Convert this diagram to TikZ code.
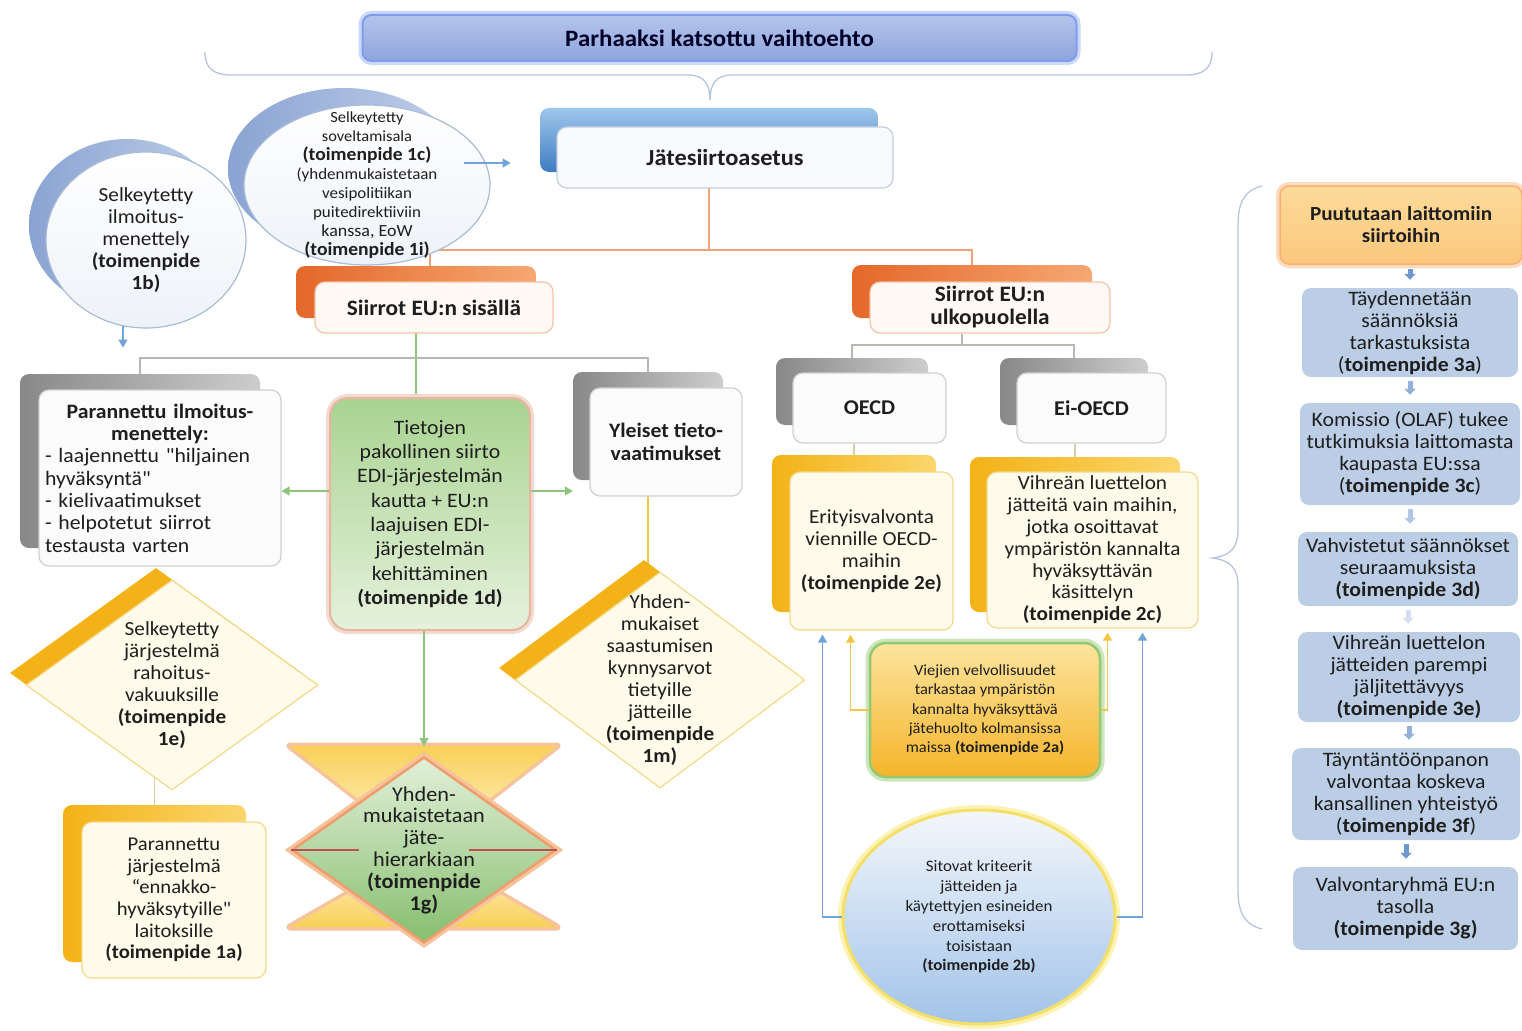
\documentclass[tikz,border=0pt]{standalone}
\usepackage{fontspec}
\setmainfont{Carlito}[FakeStretch=1.06]
% a plain face without TeX quote mapping, for straight double quotes
\newfontfamily\plainquotefont{Carlito}[FakeStretch=1.06]
\newcommand\straightquote{{\plainquotefont"}}
\usetikzlibrary{shapes.geometric,arrows.meta}

\pgfdeclarelayer{links}
\pgfsetlayers{links,main}

\definecolor{inktext}{HTML}{1E1E1E}
\definecolor{titletop}{HTML}{B4C4EC}
\definecolor{titlebot}{HTML}{8EA4DB}
\definecolor{titleglow}{HTML}{7F9DEA}
\definecolor{bracecol}{HTML}{B5C4DD}
\definecolor{jsablue}{HTML}{3F7CC2}
\definecolor{jsalight}{HTML}{9EC6EC}
\definecolor{edgeblue}{HTML}{C3CEE0}
\definecolor{frontbluecol}{HTML}{F8FAFD}
\definecolor{orangedk}{HTML}{E4682A}
\definecolor{orangelt}{HTML}{F6A772}
\definecolor{edgeorange}{HTML}{F2C4A4}
\definecolor{frontorangecol}{HTML}{FFF9F5}
\definecolor{graydk}{HTML}{888888}
\definecolor{graylt}{HTML}{CDCDCD}
\definecolor{edgegray}{HTML}{D0D0D0}
\definecolor{frontgraycol}{HTML}{FBFBFB}
\definecolor{yellowdk}{HTML}{F3B217}
\definecolor{yellowlt}{HTML}{FBD66C}
\definecolor{cream}{HTML}{FFFBEA}
\definecolor{edgeyellow}{HTML}{F4D88A}
\definecolor{greentop}{HTML}{A9D391}
\definecolor{greenbot}{HTML}{E5F1DC}
\definecolor{glowpink}{HTML}{E8B6A0}
\definecolor{ellbackdk}{HTML}{8AA3D2}
\definecolor{ellbacklt}{HTML}{C2D0EA}
\definecolor{elledge}{HTML}{A9BCD6}
\definecolor{ellfrontbot}{HTML}{EEF2F8}
\definecolor{linkgray}{HTML}{B4BAB2}
\definecolor{linkorange}{HTML}{EDA277}
\definecolor{linkgreen}{HTML}{8EC47C}
\definecolor{linkyellow}{HTML}{F3C648}
\definecolor{linkblue}{HTML}{72A2DA}
\definecolor{linktan}{HTML}{D8CDA4}
\definecolor{stepfill}{HTML}{BBCEE6}
\definecolor{steparrow}{HTML}{6F98CE}
\definecolor{alarmtop}{HTML}{FDDB9A}
\definecolor{alarmbot}{HTML}{FBC77C}
\definecolor{alarmglow}{HTML}{F8B070}
\definecolor{hgyel}{HTML}{F8D158}
\definecolor{hgpale}{HTML}{FFF6D8}
\definecolor{hgglow}{HTML}{F7C39C}
\definecolor{hggreentop}{HTML}{E2F0D9}
\definecolor{hggreenbot}{HTML}{86BE6E}
\definecolor{hgedge}{HTML}{EE9E6C}
\definecolor{hgred}{HTML}{C0504D}
\definecolor{duttop}{HTML}{FCE49E}
\definecolor{dutbot}{HTML}{F5B52A}
\definecolor{dutedge}{HTML}{95C873}
\definecolor{dutglow}{HTML}{CDE5BA}
\definecolor{crittop}{HTML}{F4F7FB}
\definecolor{critbot}{HTML}{A2C3E9}
\definecolor{critedge}{HTML}{F4E068}
\definecolor{critglow}{HTML}{FBF2B4}

\begin{document}
\begin{tikzpicture}[x=1pt,y=-1pt,
  every node/.style={text=inktext},
  txt/.style={font=\fontsize{20}{22}\selectfont},
  front/.style={rounded corners=10pt, line width=1.2pt, inner sep=0pt, align=center, txt},
  frontgray/.style={front, draw=edgegray, fill=frontgraycol},
  frontorange/.style={front, draw=edgeorange, fill=frontorangecol},
  frontyellow/.style={front, draw=edgeyellow, fill=cream},
  frontblue/.style={front, draw=edgeblue, fill=frontbluecol},
  back/.style={rounded corners=9pt, inner sep=0pt},
  backgray/.style={back, left color=graydk, right color=graylt},
  backorange/.style={back, left color=orangedk, right color=orangelt},
  backyellow/.style={back, left color=yellowdk, right color=yellowlt},
  backblue/.style={back, top color=jsalight, bottom color=jsablue},
  ellback/.style={ellipse, inner sep=0pt, left color=ellbackdk, right color=ellbacklt},
  ellfront/.style={ellipse, inner sep=-30pt, draw=elledge, line width=1.2pt,
    top color=white, bottom color=ellfrontbot, align=center},
  diaback/.style={diamond, inner sep=-40pt, fill=yellowdk},
  diafront/.style={diamond, inner sep=-40pt, draw=edgeyellow, line width=1.2pt,
    fill=cream, align=center, txt},
  stepbox/.style={rounded corners=9pt, fill=stepfill, inner sep=0pt, align=center,
    font=\fontsize{20.5}{22}\selectfont},
  link/.style={line width=1.4pt},
  tip/.style={-{Triangle[width=9pt,length=8pt]}},
  steparr/.style={draw=#1, line width=5pt, -{Triangle[width=11pt,length=6pt]},
    shorten <=4pt, shorten >=8pt},
]
\useasboundingbox (0,0) rectangle (1522,1030);

% ---------- heading and its brace ----------
\node[rounded corners=9pt, top color=titletop, bottom color=titlebot,
  draw=titleglow, line width=2pt, preaction={draw=titleglow!40, line width=8pt},
  minimum width=714, minimum height=46, inner sep=0pt,
  font=\fontsize{23.5}{26}\selectfont\bfseries, text=black!85!blue] (title) at (719.5,38)
  {Parhaaksi katsottu vaihtoehto};

\draw[bracecol, line width=1.3pt]
  (205,52) .. controls (205,68) and (213,75) .. (232,75) -- (688,75)
  .. controls (704,75) and (710,84) .. (710,100);
\draw[bracecol, line width=1.3pt]
  (1212,52) .. controls (1212,68) and (1204,75) .. (1185,75) -- (732,75)
  .. controls (716,75) and (710,84) .. (710,100);

% ---------- regulation box ----------
\node[backblue, minimum width=338, minimum height=64] (jsaback) at (709,140) {};
\node[frontblue, minimum width=336, minimum height=61,
  font=\fontsize{23}{26}\selectfont\bfseries] (jsa) at (725,157.5) {Jätesiirtoasetus};

% ---------- bubbles 1b and 1c ----------
\node[ellback, minimum width=196, minimum height=172] (e1bback) at (127,225) {};
\node[ellfront, minimum width=200, minimum height=176, txt] (e1b) at (146,240)
  {Selkeytetty\\ilmoitus-\\menettely\\\textbf{(toimenpide}\\\textbf{1b)}};

\node[ellback, minimum width=232, minimum height=162] (e1cback) at (344,169) {};
\node[ellfront, minimum width=246, minimum height=160,
  font=\fontsize{15.5}{19}\selectfont] (e1c) at (367,185)
  {Selkeytetty\\soveltamisala\\
   {\fontsize{18.5}{19}\selectfont\bfseries (toimenpide 1c)}\\
   {\fontsize{16}{19}\selectfont (yhdenmukaistetaan}\\
   {\fontsize{16}{19}\selectfont vesipolitiikan}\\
   {\fontsize{16}{19}\selectfont puitedirektiiviin}\\
   {\fontsize{17}{19}\selectfont kanssa, EoW}\\
   {\fontsize{18.5}{19}\selectfont\bfseries (toimenpide 1i)}};

% ---------- transfers inside / outside the EU ----------
\node[backorange, minimum width=240, minimum height=52] (sisback) at (416,292) {};
\node[frontorange, minimum width=238, minimum height=51,
  font=\fontsize{22}{24}\selectfont\bfseries] (sis) at (434,307.5) {Siirrot EU:n sisällä};

\node[backorange, minimum width=240, minimum height=53] (ulkback) at (972,291.5) {};
\node[frontorange, minimum width=240, minimum height=51,
  font=\fontsize{22}{23}\selectfont\bfseries] (ulk) at (990,307.5) {Siirrot EU:n\\ulkopuolella};

% ---------- inside the EU ----------
\node[backgray, minimum width=240, minimum height=174] (parback) at (140,461) {};
\node[frontgray, minimum width=242, minimum height=176, text width=230, align=left,
  font=\fontsize{20.5}{22.3}\selectfont] (par) at (160,478)
  {\centering\textbf{Parannettu ilmoitus-}\\\textbf{menettely:}\par
   \raggedright - laajennettu \straightquote hiljainen\\hyväksyntä\straightquote\\- kielivaatimukset\\- helpotetut siirrot\\testausta varten\par};

\node[rounded corners=18pt, top color=greentop, bottom color=greenbot,
  draw=glowpink, line width=2pt, preaction={draw=glowpink!50, line width=8pt},
  minimum width=200, minimum height=232, inner sep=0pt, align=center,
  font=\fontsize{20.5}{24.3}\selectfont] (tiet) at (430,514)
  {Tietojen\\pakollinen siirto\\EDI-järjestelmän\\kautta + EU:n\\laajuisen EDI-\\järjestelmän\\kehittäminen\\\textbf{(toimenpide 1d)}};

\node[backgray, minimum width=150, minimum height=108] (ylback) at (648,426) {};
\node[frontgray, minimum width=152, minimum height=108,
  font=\fontsize{20.5}{23}\selectfont\bfseries] (yl) at (666,442) {Yleiset tieto-\\vaatimukset};

\node[diaback, minimum width=292, minimum height=210] (d1eback) at (156,673) {};
\node[diafront, minimum width=292, minimum height=210] (d1e) at (172,685)
  {Selkeytetty\\järjestelmä\\rahoitus-\\vakuuksille\\\textbf{(toimenpide}\\\textbf{1e)}};

\node[backyellow, minimum width=183, minimum height=157] (a1back) at (154.5,883.5) {};
\node[frontyellow, minimum width=184, minimum height=156,
  font=\fontsize{19.5}{21.6}\selectfont] (a1) at (174,900)
  {Parannettu\\järjestelmä\\“ennakko-\\hyväksytyille\straightquote\\laitoksille\\\textbf{(toimenpide 1a)}};

% waste hierarchy (1g): hourglass behind a green diamond
\coordinate (hgtop) at (424,746);
\path[preaction={draw=hgglow, line width=7pt, line join=round},
  top color=hgyel, bottom color=hgpale] (290,746) -- (557,746) -- (424,850) -- cycle;
\path[preaction={draw=hgglow, line width=7pt, line join=round},
  top color=hgpale, bottom color=hgyel] (290,927) -- (557,927) -- (424,850) -- cycle;
\node[diamond, inner sep=-40pt, top color=hggreentop, bottom color=hggreenbot,
  draw=hgedge, line width=2.5pt, preaction={draw=hgglow, line width=9pt},
  minimum width=264, minimum height=186, align=center,
  font=\fontsize{21}{21.8}\selectfont] (d1g) at (424,850)
  {Yhden-\\mukaistetaan\\jäte-\\hierarkiaan\\\textbf{(toimenpide}\\\textbf{1g)}};
\draw[hgred, line width=1.2pt] (d1g.west) -- ++(68,0);
\draw[hgred, line width=1.2pt] (d1g.east) -- ++(-88,0);

\node[diaback, minimum width=290, minimum height=216] (d1mback) at (644,668) {};
\node[diafront, minimum width=290, minimum height=216] (d1m) at (660,680)
  {Yhden-\\mukaiset\\saastumisen\\kynnysarvot\\tietyille\\jätteille\\\textbf{(toimenpide}\\\textbf{1m)}};

% ---------- outside the EU ----------
\node[backgray, minimum width=152, minimum height=67] (oecdback) at (852,391.5) {};
\node[frontgray, minimum width=153, minimum height=70,
  font=\fontsize{21}{24}\selectfont\bfseries] (oecd) at (869.5,408) {OECD};
\node[backgray, minimum width=148, minimum height=67] (eiback) at (1074,391.5) {};
\node[frontgray, minimum width=149, minimum height=70,
  font=\fontsize{21}{24}\selectfont\bfseries] (ei) at (1091.5,408) {Ei-OECD};

\node[backyellow, minimum width=164, minimum height=157] (erback) at (854,533.5) {};
\node[frontyellow, minimum width=163, minimum height=158] (er) at (871.5,551)
  {Erityisvalvonta\\viennille OECD-\\maihin\\\textbf{(toimenpide 2e)}};

\node[backyellow, minimum width=210, minimum height=155] (vihback) at (1075,534.5) {};
\node[frontyellow, minimum width=211, minimum height=156,
  font=\fontsize{20}{21.8}\selectfont] (vih) at (1092.5,550)
  {Vihreän luettelon\\jätteitä vain maihin,\\jotka osoittavat\\ympäristön kannalta\\hyväksyttävän\\käsittelyn\\\textbf{(toimenpide 2c)}};

\node[rounded corners=16pt, top color=duttop, bottom color=dutbot,
  draw=dutedge, line width=2.5pt, preaction={draw=dutglow, line width=9pt},
  minimum width=230, minimum height=134, inner sep=0pt, align=center,
  font=\fontsize{15.5}{19.3}\selectfont] (v2a) at (985,710)
  {Viejien velvollisuudet\\tarkastaa ympäristön\\kannalta hyväksyttävä\\jätehuolto kolmansissa\\maissa \textbf{(toimenpide 2a)}};

\node[ellipse, inner sep=-30pt, top color=crittop, bottom color=critbot,
  draw=critedge, line width=3pt, preaction={draw=critglow, line width=10pt},
  minimum width=272, minimum height=214, align=center,
  font=\fontsize{16}{19.8}\selectfont] (c2b) at (979,917)
  {Sitovat kriteerit\\jätteiden ja\\käytettyjen esineiden\\erottamiseksi\\toisistaan\\\textbf{(toimenpide 2b)}};

% ---------- illegal shipments ----------
\draw[bracecol, line width=1.3pt]
  (1262,186) .. controls (1246,190) and (1238,200) .. (1238,225) -- (1238,530)
  .. controls (1238,548) and (1230,556) .. (1212,558)
  .. controls (1230,560) and (1238,568) .. (1238,586) -- (1238,890)
  .. controls (1238,915) and (1246,925) .. (1262,929);

\node[rounded corners=9pt, top color=alarmtop, bottom color=alarmbot,
  draw=alarmglow, line width=1.5pt, preaction={draw=alarmglow!45, line width=8pt},
  minimum width=242, minimum height=78, inner sep=0pt, align=center,
  font=\fontsize{20}{22}\selectfont\bfseries] (alarm) at (1401,225)
  {Puututaan laittomiin\\siirtoihin};

\node[stepbox, minimum width=216, minimum height=89] (s3a) at (1410,332.5)
  {Täydennetään\\säännöksiä\\tarkastuksista\\(\textbf{toimenpide 3a})};
\node[stepbox, minimum width=220, minimum height=102] (s3c) at (1410,454)
  {Komissio (OLAF) tukee\\tutkimuksia laittomasta\\kaupasta EU:ssa\\(\textbf{toimenpide 3c})};
\node[stepbox, minimum width=220, minimum height=74] (s3d) at (1408,569)
  {Vahvistetut säännökset\\seuraamuksista\\\textbf{(toimenpide 3d)}};
\node[stepbox, minimum width=222, minimum height=90] (s3e) at (1409,677)
  {Vihreän luettelon\\jätteiden parempi\\jäljitettävyys\\\textbf{(toimenpide 3e)}};
\node[stepbox, minimum width=228, minimum height=92] (s3f) at (1406,794)
  {Täyntäntöönpanon\\valvontaa koskeva\\kansallinen yhteistyö\\(\textbf{toimenpide 3f})};
\node[stepbox, minimum width=225, minimum height=83] (s3g) at (1405.5,908.5)
  {Valvontaryhmä EU:n\\tasolla\\\textbf{(toimenpide 3g)}};

\draw[steparr=steparrow] (alarm.south -| s3a.north) -- (s3a.north);
\draw[steparr=steparrow!75] (s3a.south) -- (s3c.north -| s3a.south);
\draw[steparr=steparrow!55] (s3c.south) -- (s3d.north -| s3c.south);
\draw[steparr=steparrow!30] (s3d.south) -- (s3e.north -| s3d.south);
\draw[steparr=steparrow!75] (s3e.south) -- (s3f.north -| s3e.south);
\draw[steparr=steparrow] (s3f.south) -- (s3g.north -| s3f.south);

% ---------- connectors ----------
\coordinate (hub) at (709,250);
\coordinate (bus) at (416,358);
\coordinate (bus2) at (962,345);
\begin{pgfonlayer}{links}
  \draw[link, linkorange] (jsaback.center) -- (hub) -| ([xshift=14pt]sisback.north);
  \draw[link, linkorange] (hub) -| (ulkback.north);
  \draw[link, linkgreen] (sisback.center) -- (tiet.north -| sisback.center);
  \draw[link, linkgray] (parback.north) |- (bus) -| (ylback.north);
  \draw[link, linkyellow] (ylback.center) -- (ylback.center |- d1m.center);
  \draw[link, linktan] (d1e.center -| a1back) -- (a1back.center);
  \draw[link, linkgray] (ulk.south -| bus2) -- (bus2);
  \draw[link, linkgray] (oecdback.north) |- (bus2) -| (eiback.north);
  \draw[link, linktan] (oecd.south -| erback) -- (erback.north);
  \draw[link, linktan] (ei.south -| vihback) -- (vihback.north);
\end{pgfonlayer}

\coordinate (tl) at ([yshift=23pt]tiet.west);
\coordinate (tr) at ([yshift=23pt]tiet.east);
\draw[link, linkgreen, tip] (tl) -- (tl -| par.east);
\draw[link, linkgreen, tip] (tr) -- (tr -| ylback.west);
\draw[link, linkgreen, tip] (tiet.south -| hgtop) -- (hgtop);

\draw[link, linkblue, tip] ([xshift=-27pt,yshift=22pt]e1c.east) -- ++(47,0);
\draw[link, linkblue, tip] ([xshift=-23pt,yshift=3pt]e1b.south) -- ++(0,22);

\draw[link, linkyellow, tip] (v2a.west) -| ([xshift=-21pt,yshift=-4pt]er.south);
\draw[link, linkyellow, tip] (v2a.east) -| ([xshift=15pt,yshift=-4pt]vih.south);
\draw[link, linkblue, tip] (c2b.west) -| ([xshift=-49pt,yshift=-4pt]er.south);
\draw[link, linkblue, tip] (c2b.east) -| ([xshift=50pt,yshift=-4pt]vih.south);

\end{tikzpicture}
\end{document}
